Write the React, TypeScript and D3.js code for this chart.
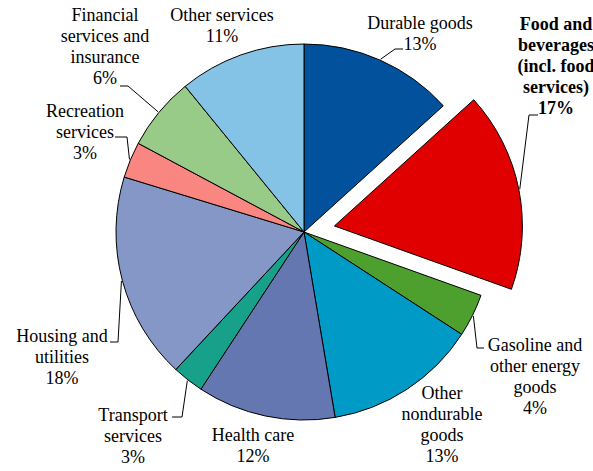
import { useEffect, useRef } from "react";
import * as d3 from "d3";

// Share of spending, clockwise from 12 o'clock
const categories = [
    "Durable goods",
    "Food and beverages (incl. food services)",
    "Gasoline and other energy goods",
    "Other nondurable goods",
    "Health care",
    "Transport services",
    "Housing and utilities",
    "Recreation services",
    "Financial services and insurance",
    "Other services",
];
const shares = [13.3, 17.2, 3.7, 13.2, 11.9, 2.7, 17.8, 3.1, 6.3, 10.9];
const percentLabels = ["13%", "17%", "4%", "13%", "12%", "3%", "18%", "3%", "6%", "11%"];
const labelLines = [
    ["Durable goods"],
    ["Food and", "beverages", "(incl. food", "services)"],
    ["Gasoline and", "other energy", "goods"],
    ["Other", "nondurable", "goods"],
    ["Health care"],
    ["Transport", "services"],
    ["Housing and", "utilities"],
    ["Recreation", "services"],
    ["Financial", "services and", "insurance"],
    ["Other services"],
];
const colors = [
    "#02519c",
    "#e00000",
    "#4ea02e",
    "#009ac7",
    "#6477b0",
    "#17a08a",
    "#8497c6",
    "#fa8681",
    "#98ca88",
    "#84c3e5",
];
const explodedIndex = 1;

// label placement: centre x, first baseline, optional leader (anchor x/y, elbow x)
const labelLayout = [
    { x: 420, y: 29, leader: [403, 49, 395] },
    { x: 556, y: 30, leader: [538, 115, 529] },
    { x: 535, y: 351, leader: [484, 348, 477] },
    { x: 442, y: 399, leader: null },
    { x: 253, y: 441, leader: null },
    { x: 133, y: 421, leader: [172, 417, 182] },
    { x: 62, y: 342, leader: [110, 342, 118] },
    { x: 85, y: 116.5, leader: [115, 137, 127] },
    { x: 105, y: 21, leader: [120, 86, 128] },
    { x: 222, y: 21, leader: null },
];

const FONT = '"Times New Roman", Times, "Liberation Serif", "DejaVu Serif", "Noto Serif", serif';

export default function App() {
    const svgRef = useRef<SVGSVGElement>(null);

    useEffect(() => {
        if (!svgRef.current) return;
        const width = 593;
        const height = 471;
        const cx = 304;
        const cy = 232;
        const radius = 188;
        const explode = 31;
        const lineHeight = 21;

        const svg = d3.select(svgRef.current);
        svg.selectAll("*").remove();
        svg.attr("width", width).attr("height", height);

        const pie = d3
            .pie<number>()
            .sort(null)
            .value((d) => d);
        const arcs = pie(shares);
        const arc = d3
            .arc<d3.PieArcDatum<number>>()
            .innerRadius(0)
            .outerRadius(radius);

        const offsetOf = (i: number) => {
            if (i !== explodedIndex) return [0, 0];
            const a = (arcs[i].startAngle + arcs[i].endAngle) / 2;
            return [explode * Math.sin(a), -explode * Math.cos(a)];
        };

        const g = svg.append("g").attr("transform", `translate(${cx},${cy})`);

        g.selectAll("path.slice")
            .data(arcs)
            .enter()
            .append("path")
            .attr("class", "slice")
            .attr("d", arc)
            .attr("transform", (d, i) => {
                const [ox, oy] = offsetOf(i);
                return `translate(${ox},${oy})`;
            })
            .attr("fill", (d, i) => colors[i])
            .attr("stroke", "#000")
            .attr("stroke-width", 1)
            .attr("stroke-linejoin", "round");

        // Leader lines
        labelLayout.forEach((lay, i) => {
            if (!lay.leader) return;
            const [ax, ay, ex] = lay.leader;
            const a = (arcs[i].startAngle + arcs[i].endAngle) / 2;
            const [ox, oy] = offsetOf(i);
            const px = cx + ox + (radius + 1) * Math.sin(a);
            const py = cy + oy - (radius + 1) * Math.cos(a);
            svg.append("path")
                .attr("d", `M${ax},${ay}L${ex},${ay}L${px},${py}`)
                .attr("fill", "none")
                .attr("stroke", "#000")
                .attr("stroke-width", 1);
        });

        // Labels
        labelLayout.forEach((lay, i) => {
            const lines = [...labelLines[i], percentLabels[i]];
            const text = svg
                .append("text")
                .attr("text-anchor", "middle")
                .attr("font-family", FONT)
                .attr("font-size", 18)
                .attr("font-weight", i === explodedIndex ? "bold" : "normal")
                .attr("fill", "#000");
            lines.forEach((line, j) => {
                text.append("tspan")
                    .attr("x", lay.x)
                    .attr("y", lay.y + j * lineHeight)
                    .text(line);
            });
        });
    }, []);

    return (
        <svg
            ref={svgRef}
            aria-label={categories.join(", ")}
            style={{ position: "absolute", left: 0, top: 0, background: "#fff" }}
        ></svg>
    );
}
